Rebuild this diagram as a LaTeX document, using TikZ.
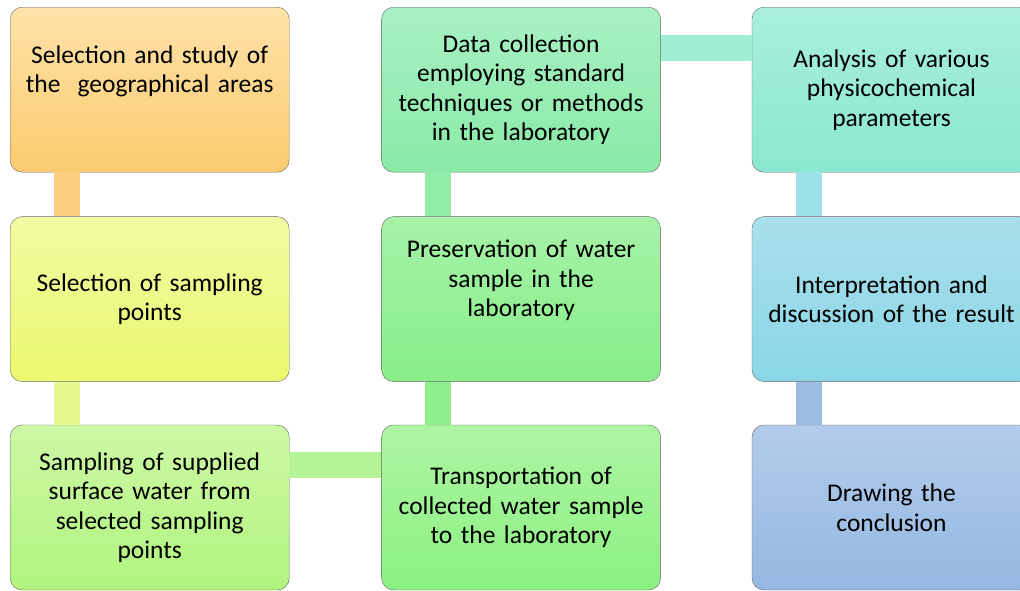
\documentclass[tikz,border=0pt]{standalone}
\usepackage{fontspec}
\setmainfont{Carlito}
\usetikzlibrary{positioning}
\definecolor{orgT}{HTML}{FEE2AA}
\definecolor{orgB}{HTML}{FCCB6E}
\definecolor{yelT}{HTML}{F1FAA2}
\definecolor{yelB}{HTML}{EAF96E}
\definecolor{limT}{HTML}{CDF8A6}
\definecolor{limB}{HTML}{B0F47E}
\definecolor{grnT}{HTML}{ADF5A2}
\definecolor{grnB}{HTML}{8CF082}
\definecolor{prsT}{HTML}{A6F2A8}
\definecolor{prsB}{HTML}{88EE88}
\definecolor{datT}{HTML}{A8F0C4}
\definecolor{datB}{HTML}{8AEAA6}
\definecolor{anaT}{HTML}{AAEEDE}
\definecolor{anaB}{HTML}{8AE8CE}
\definecolor{intT}{HTML}{AADFEC}
\definecolor{intB}{HTML}{8AD6E6}
\definecolor{conT}{HTML}{B2CCEA}
\definecolor{conB}{HTML}{94B8E2}
\definecolor{lnkA}{HTML}{FCD080}
\definecolor{lnkB}{HTML}{E6F890}
\definecolor{lnkC}{HTML}{B4F496}
\definecolor{lnkD}{HTML}{8EEE8C}
\definecolor{lnkE}{HTML}{90ECA6}
\definecolor{lnkF}{HTML}{A0EED6}
\definecolor{lnkG}{HTML}{9EE0E8}
\definecolor{lnkH}{HTML}{9CBCE2}
\tikzset{stepbox/.style = {draw=black!60, rounded corners=12pt,
                           minimum width=279pt, minimum height=165pt,
                           text width=268pt, align=center, inner sep=0pt,
                           font=\fontsize{25.5}{29.5}\selectfont},
         link/.style = {line width=26pt}}

\begin{document}
\begin{tikzpicture}[x=1pt, y=-1pt]
    \useasboundingbox (0,0) rectangle (1020,590);
    \clip (0,0) rectangle (1020,590);

    \node[stepbox, anchor=north west, top color=orgT, bottom color=orgB] (areas) at (10,7)
        {Selection and study of\\the\ \ geographical areas\\[12pt]~};
    \node[stepbox, below=44pt of areas, top color=yelT, bottom color=yelB] (points)
        {Selection of sampling\\points};
    \node[stepbox, below=43pt of points, top color=limT, bottom color=limB] (sampling)
        {Sampling of supplied\\surface water from\\selected sampling\\points};

    \node[stepbox, right=92pt of sampling, top color=grnT, bottom color=grnB] (transport)
        {Transportation of\\collected water sample\\to the laboratory};
    \node[stepbox, right=92pt of points, top color=prsT, bottom color=prsB] (preserve)
        {Preservation of water\\sample in the\\laboratory\\[12pt]~};
    \node[stepbox, right=92pt of areas, top color=datT, bottom color=datB] (collect)
        {Data collection\\employing standard\\techniques or methods\\in the laboratory};

    \node[stepbox, right=91pt of collect, top color=anaT, bottom color=anaB] (analysis)
        {Analysis of various\\physicochemical\\parameters};
    \node[stepbox, right=91pt of preserve, top color=intT, bottom color=intB] (interpret)
        {Interpretation and\\discussion of the result};
    \node[stepbox, right=91pt of transport, top color=conT, bottom color=conB] (conclude)
        {Drawing the\\conclusion};

    % links between the steps
    \draw[link, lnkA] ([xshift=57pt]areas.south west) -- ([xshift=57pt]points.north west);
    \draw[link, lnkB] ([xshift=57pt]points.south west) -- ([xshift=57pt]sampling.north west);
    \draw[link, lnkC] ([yshift=-40.5pt]sampling.north east) -- ([yshift=-40.5pt]transport.north west);
    \draw[link, lnkD] ([xshift=57pt]transport.north west) -- ([xshift=57pt]preserve.south west);
    \draw[link, lnkE] ([xshift=57pt]preserve.north west) -- ([xshift=57pt]collect.south west);
    \draw[link, lnkF] ([yshift=-41pt]collect.north east) -- ([yshift=-41pt]analysis.north west);
    \draw[link, lnkG] ([xshift=57pt]analysis.south west) -- ([xshift=57pt]interpret.north west);
    \draw[link, lnkH] ([xshift=57pt]interpret.south west) -- ([xshift=57pt]conclude.north west);
\end{tikzpicture}
\end{document}
